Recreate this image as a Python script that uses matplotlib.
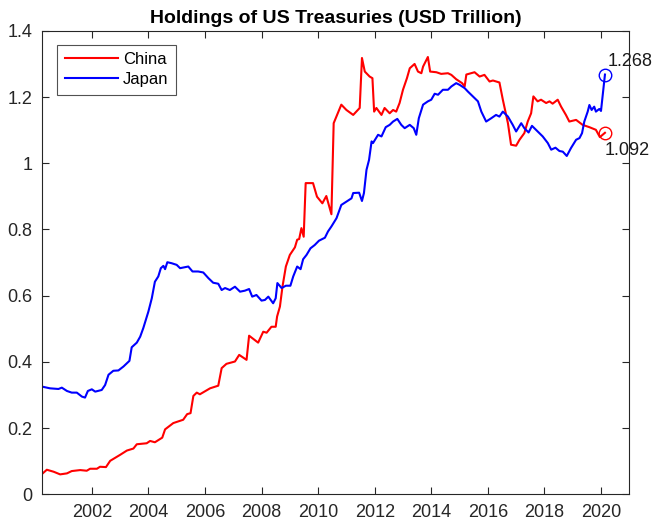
import matplotlib
matplotlib.use('Agg')
import matplotlib.pyplot as plt

plt.rcParams['font.family'] = ['Liberation Sans', 'DejaVu Sans']

# 数据（从图中读取，单位：万亿美元）
china_t = [2000.25, 2000.41, 2000.65, 2000.88, 2001.12, 2001.29, 2001.59, 2001.82, 2001.94, 2002.18,
           2002.29, 2002.50, 2002.65, 2003.00, 2003.24, 2003.47, 2003.59, 2003.94, 2004.06, 2004.23,
           2004.49, 2004.59, 2004.88, 2005.23, 2005.37, 2005.49, 2005.59, 2005.71, 2005.82, 2006.18,
           2006.47, 2006.59, 2006.76, 2007.06, 2007.21, 2007.47, 2007.56, 2007.88, 2008.06, 2008.18,
           2008.35, 2008.50, 2008.55, 2008.65, 2008.74, 2008.86, 2009.00, 2009.18, 2009.26, 2009.33,
           2009.41, 2009.49, 2009.56, 2009.82, 2009.96, 2010.15, 2010.29, 2010.47, 2010.55, 2010.82,
           2011.00, 2011.24, 2011.47, 2011.55, 2011.65, 2011.82, 2011.92, 2011.98, 2012.06, 2012.24,
           2012.35, 2012.53, 2012.65, 2012.76, 2012.88, 2013.00, 2013.14, 2013.24, 2013.41, 2013.53,
           2013.65, 2013.71, 2013.88, 2013.96, 2014.18, 2014.35, 2014.59, 2014.71, 2014.88, 2015.09,
           2015.18, 2015.24, 2015.53, 2015.71, 2015.88, 2016.06, 2016.18, 2016.41, 2016.53, 2016.71,
           2016.82, 2017.00, 2017.12, 2017.29, 2017.41, 2017.53, 2017.61, 2017.76, 2017.88, 2018.06,
           2018.18, 2018.29, 2018.47, 2018.59, 2018.76, 2018.88, 2019.12, 2019.35, 2019.59, 2019.82,
           2019.96, 2020.14]
china_v = [0.062, 0.074, 0.068, 0.060, 0.063, 0.070, 0.073, 0.071, 0.077, 0.077,
           0.083, 0.082, 0.101, 0.119, 0.132, 0.138, 0.151, 0.154, 0.161, 0.157,
           0.171, 0.196, 0.215, 0.225, 0.242, 0.245, 0.297, 0.307, 0.302, 0.320,
           0.328, 0.381, 0.394, 0.401, 0.421, 0.406, 0.479, 0.458, 0.491, 0.488,
           0.506, 0.506, 0.537, 0.567, 0.627, 0.688, 0.723, 0.746, 0.769, 0.771,
           0.804, 0.778, 0.940, 0.940, 0.899, 0.879, 0.901, 0.846, 1.121, 1.177,
           1.161, 1.146, 1.167, 1.318, 1.277, 1.262, 1.257, 1.156, 1.167, 1.146,
           1.167, 1.151, 1.161, 1.156, 1.182, 1.222, 1.257, 1.287, 1.300, 1.277,
           1.272, 1.292, 1.321, 1.277, 1.275, 1.270, 1.272, 1.267, 1.254, 1.242,
           1.232, 1.268, 1.275, 1.262, 1.267, 1.247, 1.250, 1.244, 1.192, 1.121,
           1.056, 1.053, 1.071, 1.091, 1.126, 1.151, 1.202, 1.187, 1.192, 1.182,
           1.187, 1.180, 1.192, 1.171, 1.146, 1.126, 1.131, 1.116, 1.109, 1.101,
           1.079, 1.092]

japan_t = [2000.25, 2000.52, 2000.82, 2000.94, 2001.12, 2001.29, 2001.47, 2001.65, 2001.76, 2001.86,
           2002.00, 2002.12, 2002.35, 2002.47, 2002.59, 2002.76, 2002.94, 2003.12, 2003.33, 2003.41,
           2003.59, 2003.71, 2003.82, 2004.00, 2004.12, 2004.23, 2004.35, 2004.44, 2004.53, 2004.59,
           2004.67, 2004.82, 2005.00, 2005.12, 2005.29, 2005.41, 2005.56, 2005.76, 2005.94, 2006.12,
           2006.29, 2006.47, 2006.59, 2006.71, 2006.88, 2007.06, 2007.24, 2007.41, 2007.56, 2007.67,
           2007.82, 2008.00, 2008.12, 2008.24, 2008.41, 2008.50, 2008.56, 2008.71, 2008.86, 2009.02,
           2009.12, 2009.26, 2009.38, 2009.47, 2009.59, 2009.73, 2009.88, 2010.03, 2010.24, 2010.35,
           2010.47, 2010.65, 2010.82, 2011.00, 2011.18, 2011.24, 2011.45, 2011.55, 2011.62, 2011.71,
           2011.80, 2011.89, 2011.94, 2012.12, 2012.24, 2012.39, 2012.53, 2012.65, 2012.80, 2012.94,
           2013.06, 2013.24, 2013.38, 2013.47, 2013.56, 2013.71, 2013.88, 2014.00, 2014.12, 2014.24,
           2014.41, 2014.59, 2014.71, 2014.88, 2015.00, 2015.18, 2015.29, 2015.47, 2015.65, 2015.77,
           2015.94, 2016.12, 2016.29, 2016.41, 2016.53, 2016.71, 2016.88, 2017.00, 2017.18, 2017.29,
           2017.44, 2017.56, 2017.76, 2017.94, 2018.12, 2018.24, 2018.39, 2018.53, 2018.65, 2018.79,
           2018.94, 2019.12, 2019.24, 2019.33, 2019.41, 2019.53, 2019.59, 2019.67, 2019.76, 2019.82,
           2019.94, 2020.00, 2020.14]
japan_v = [0.325, 0.320, 0.318, 0.322, 0.312, 0.307, 0.307, 0.295, 0.292, 0.312,
           0.317, 0.310, 0.315, 0.330, 0.361, 0.373, 0.374, 0.386, 0.403, 0.444,
           0.458, 0.476, 0.502, 0.552, 0.592, 0.642, 0.658, 0.683, 0.690, 0.680,
           0.701, 0.698, 0.693, 0.683, 0.686, 0.688, 0.673, 0.673, 0.670, 0.653,
           0.639, 0.636, 0.617, 0.623, 0.617, 0.627, 0.612, 0.615, 0.620, 0.597,
           0.602, 0.585, 0.587, 0.597, 0.577, 0.592, 0.638, 0.623, 0.630, 0.630,
           0.658, 0.688, 0.680, 0.710, 0.723, 0.743, 0.753, 0.766, 0.775, 0.794,
           0.809, 0.834, 0.874, 0.884, 0.894, 0.910, 0.911, 0.886, 0.910, 0.980,
           1.010, 1.066, 1.061, 1.086, 1.081, 1.109, 1.116, 1.126, 1.134, 1.116,
           1.106, 1.116, 1.106, 1.086, 1.136, 1.177, 1.187, 1.192, 1.210, 1.207,
           1.222, 1.222, 1.232, 1.242, 1.237, 1.227, 1.217, 1.202, 1.187, 1.156,
           1.126, 1.136, 1.146, 1.141, 1.156, 1.141, 1.116, 1.096, 1.121, 1.106,
           1.093, 1.113, 1.096, 1.081, 1.061, 1.041, 1.047, 1.037, 1.035, 1.022,
           1.046, 1.071, 1.076, 1.091, 1.126, 1.156, 1.176, 1.161, 1.171, 1.156,
           1.164, 1.158, 1.268]

x_ticks = [2002, 2004, 2006, 2008, 2010, 2012, 2014, 2016, 2018, 2020]
y_ticks = [0, 0.2, 0.4, 0.6, 0.8, 1.0, 1.2, 1.4]
y_labels = ['0', '0.2', '0.4', '0.6', '0.8', '1', '1.2', '1.4']

fig = plt.figure(figsize=(6.54, 5.23), dpi=100)
ax = fig.add_axes([0.0647, 0.055, 0.8975, 0.886])

ax.plot(china_t, china_v, color='#ff0000', linewidth=1.5, label='China')
ax.plot(japan_t, japan_v, color='#0000ff', linewidth=1.5, label='Japan')

# 最后一个点：空心圆 + 数值
ax.plot(china_t[-1], china_v[-1], 'o', mfc='none', mec='#ff0000', ms=9, mew=1.0)
ax.plot(japan_t[-1], japan_v[-1], 'o', mfc='none', mec='#0000ff', ms=9, mew=1.0)
ax.text(japan_t[-1] + 0.08, japan_v[-1] + 0.038, f'{japan_v[-1]:.3f}', fontsize=13,
        ha='left', va='center', color='#1a1a1a')
ax.text(china_t[-1] - 0.02, china_v[-1] - 0.052, f'{china_v[-1]:.3f}', fontsize=13,
        ha='left', va='center', color='#1a1a1a')

ax.set_xlim(2000.25, 2021.0)
ax.set_ylim(0, 1.4)
ax.set_xticks(x_ticks)
ax.set_yticks(y_ticks)
ax.set_yticklabels(y_labels)
ax.tick_params(direction='in', top=True, right=True, length=5, width=0.8,
               colors='#262626', labelsize=13)
ax.tick_params(axis='x', pad=7)
ax.tick_params(axis='y', pad=7)
for s in ax.spines.values():
    s.set_color('#262626')
    s.set_linewidth(0.8)

ax.set_title('Holdings of US Treasuries (USD Trillion)', fontsize=14, fontweight='bold', pad=6)

leg = ax.legend(loc='upper left', fontsize=12, frameon=True, fancybox=False,
                edgecolor='#262626', handlelength=3.2, borderpad=0.45, labelspacing=0.3,
                handletextpad=0.3, borderaxespad=0, bbox_to_anchor=(0.0256, 0.970))
leg.get_frame().set_linewidth(0.8)

plt.savefig('out.png', dpi=100)
plt.close()
